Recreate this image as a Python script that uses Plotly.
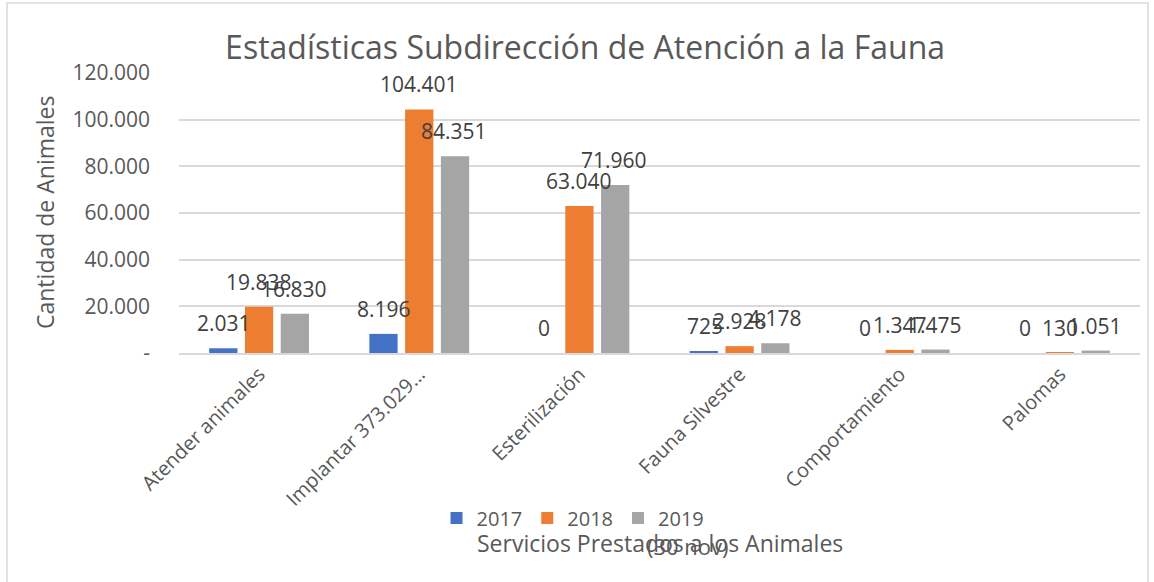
import plotly.graph_objects as go

categories = ["Atender animales", "Implantar 373.029...", "Esterilización",
              "Fauna Silvestre", "Comportamiento", "Palomas"]
years = ["2017", "2018", "2019"]
v2017 = [2031, 8196, 0, 725, 0, 0]
v2018 = [19838, 104401, 63040, 2928, 1347, 130]
v2019 = [16830, 84351, 71960, 4178, 1475, 1051]
series = [v2017, v2018, v2019]
colors = ["#4472C4", "#ED7D31", "#A5A5A5"]
ytickvals = [0, 20000, 40000, 60000, 80000, 100000, 120000]
yticktext = ["-", "20.000", "40.000", "60.000", "80.000", "100.000", "120.000"]

FONT = "Open Sans"
TXT = "#595959"

def fmt(v):
    return f"{v:,}".replace(",", ".")

fig = go.Figure()
for name, vals, col in zip(years, series, colors):
    fig.add_trace(go.Bar(x=categories, y=vals, name=name, marker_color=col,
                         marker_line_width=0, hoverinfo="x+y"))

annotations = []
shifts = [-35, 0, 35]
for vals, sh in zip(series, shifts):
    for c, v in zip(categories, vals):
        annotations.append(dict(x=c, y=v, xref="x", yref="y", text=fmt(v),
                                showarrow=False, xshift=sh, yshift=25,
                                yanchor="middle", xanchor="center",
                                font=dict(family=FONT, size=21, color="#404040")))

annotations.append(dict(x=(45 - 179) / 961, y=0.5, xref="paper", yref="paper",
                        text="Cantidad de Animales", textangle=-90, showarrow=False,
                        xanchor="center", yanchor="middle",
                        font=dict(family=FONT, size=23, color=TXT)))
annotations.append(dict(x=0.5, y=-0.679, xref="paper", yref="paper",
                        text="Servicios Prestados a los Animales", showarrow=False,
                        yanchor="middle",
                        font=dict(family=FONT, size=23, color=TXT)))
annotations.append(dict(x=0.53, y=-0.688, xref="paper", yref="paper",
                        text="(30 nov)", showarrow=False, yanchor="middle",
                        font=dict(family=FONT, size=22, color=TXT)))

fig.update_layout(
    width=1154, height=582,
    margin=dict(l=179, r=14, t=73, b=229),
    paper_bgcolor="white", plot_bgcolor="white",
    barmode="group", bargap=0.33, bargroupgap=0.21,
    separators=",.",
    title=dict(text="Estadísticas Subdirección de Atención a la Fauna",
               x=0.507, xanchor="center", y=1 - 48 / 582, yanchor="middle",
               yref="container",
               font=dict(family=FONT, size=32, color=TXT)),
    font=dict(family=FONT, color=TXT),
    legend=dict(orientation="h", x=0.41, xanchor="center", y=-0.589,
                yanchor="middle", font=dict(family=FONT, size=20, color=TXT),
                itemwidth=30, tracegroupgap=0),
    annotations=annotations,
    shapes=[dict(type="rect", xref="paper", yref="paper",
                 x0=(7 - 179) / 961, x1=(1148 - 179) / 961,
                 y0=(353 - 600) / 280, y1=(353 - 3) / 280,
                 line=dict(color="#D9D9D9", width=1.5), layer="below")],
)
fig.update_xaxes(tickangle=-45, tickfont=dict(family=FONT, size=20, color=TXT),
                 showline=True, linecolor="#D9D9D9", linewidth=1.5,
                 showgrid=False, ticks="")
fig.update_yaxes(range=[0, 120000], tickvals=ytickvals, ticktext=yticktext,
                 tickfont=dict(family=FONT, size=21, color=TXT),
                 showgrid=True, gridcolor="#D9D9D9", gridwidth=1.5,
                 zeroline=False, ticks="", ticklabelstandoff=28)

fig.write_html("out.html", config={"displayModeBar": False},
               post_script="document.body.style.margin='0';document.body.style.overflow='hidden';")
